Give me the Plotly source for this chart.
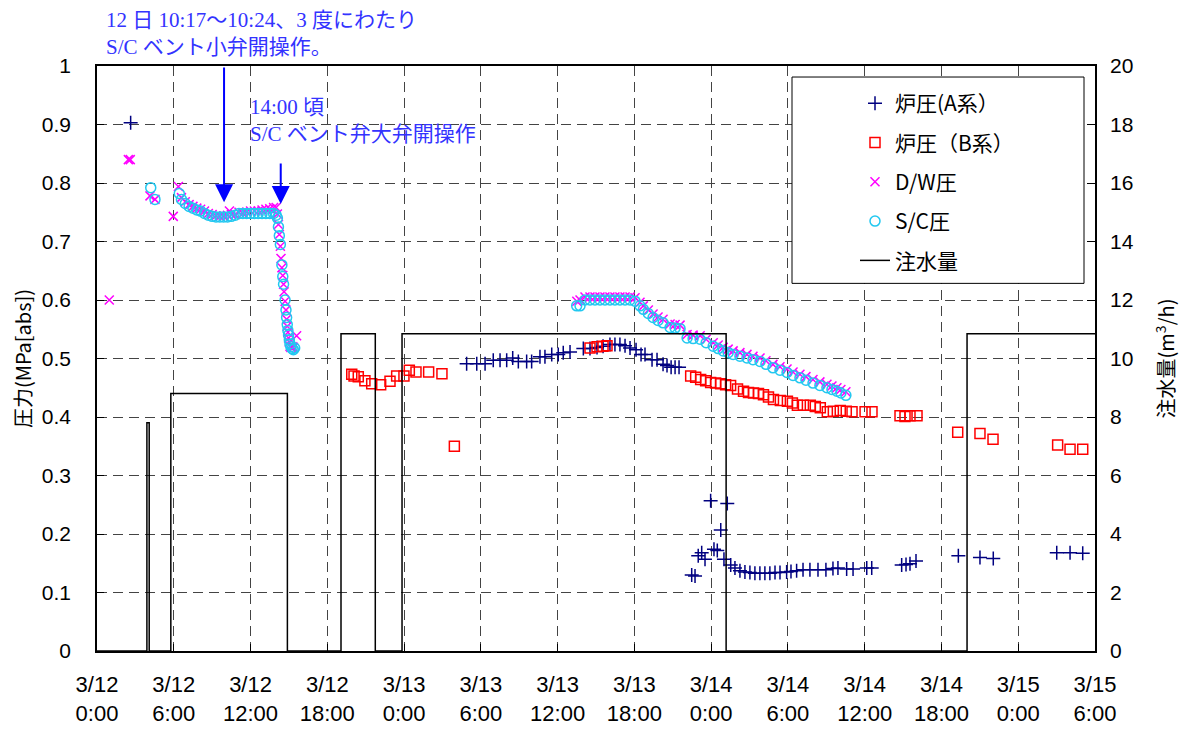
import plotly.graph_objects as go

# time axis: hours since 3/12 0:00
tick_hours = [0, 6, 12, 18, 24, 30, 36, 42, 48, 54, 60, 66, 72, 78]
tick_labels = ["3/12<br>0:00", "3/12<br>6:00", "3/12<br>12:00", "3/12<br>18:00",
               "3/13<br>0:00", "3/13<br>6:00", "3/13<br>12:00", "3/13<br>18:00",
               "3/14<br>0:00", "3/14<br>6:00", "3/14<br>12:00", "3/14<br>18:00",
               "3/15<br>0:00", "3/15<br>6:00"]

# 炉圧(A系)
a_t = [2.63,
       28.89, 29.68, 30.33, 30.97, 31.50, 32.02, 32.49, 32.93, 33.58, 33.97, 34.62, 35.01,
       35.54, 36.05, 36.44, 36.97, 38.01, 38.53, 39.08, 39.55, 40.09, 40.48, 40.87, 41.27,
       41.66, 42.13, 42.52, 42.83, 43.38, 43.77, 44.24, 44.55, 44.87, 45.18, 45.49,
       46.48, 46.74, 46.99, 47.26, 47.52, 47.96, 48.22, 48.48, 48.75, 49.00, 49.26, 49.53,
       49.86, 50.25, 50.64, 51.03, 51.42, 51.81, 52.20, 52.59, 52.99, 53.38, 53.90, 54.24,
       54.68, 55.18, 55.72, 56.35, 56.97, 57.52, 57.91, 58.59, 59.09, 60.16, 60.55,
       62.89, 63.23, 63.54, 64.01, 67.32, 69.01, 70.05, 75.01, 76.05, 77.04]
a_v = [0.903,
       0.491, 0.491, 0.491, 0.497, 0.497, 0.497, 0.501, 0.495, 0.495, 0.495, 0.503, 0.503,
       0.507, 0.507, 0.510, 0.511, 0.517, 0.517, 0.519, 0.521, 0.524, 0.524, 0.524, 0.522,
       0.518, 0.515, 0.507, 0.507, 0.498, 0.498, 0.490, 0.488, 0.485, 0.485, 0.485,
       0.130, 0.128, 0.163, 0.168, 0.157, 0.257, 0.174, 0.172, 0.207, 0.157, 0.252, 0.147,
       0.142, 0.137, 0.135, 0.134, 0.133, 0.133, 0.133, 0.133, 0.134, 0.134, 0.135, 0.136,
       0.137, 0.139, 0.139, 0.139, 0.139, 0.141, 0.142, 0.140, 0.140, 0.142, 0.142,
       0.147, 0.148, 0.149, 0.154, 0.163, 0.160, 0.158, 0.168, 0.168, 0.167]

# 炉圧(B系)
b_t = [19.91, 20.09, 20.42, 20.94, 21.47, 22.17, 22.90, 23.42, 23.99, 24.41, 24.93, 25.92,
       26.96, 27.93,
       38.53, 39.08, 39.55, 39.86,
       46.40, 46.79, 47.18, 47.57, 47.96, 48.35, 48.74, 49.13, 49.52, 50.06, 50.53, 50.92,
       51.31, 51.70, 52.09, 52.48, 52.87, 53.41, 53.96, 54.35, 54.74, 55.21, 55.75, 56.14,
       56.53, 57.08, 57.55, 58.09, 58.56, 59.01, 60.03, 60.57, 62.76, 63.15, 63.54, 64.09,
       67.27, 69.01, 70.03, 75.08, 76.05, 77.04]
b_v = [0.473, 0.470, 0.469, 0.462, 0.457, 0.455, 0.461, 0.470, 0.470, 0.480, 0.477, 0.477,
       0.474, 0.350,
       0.518, 0.520, 0.521, 0.522,
       0.470, 0.468, 0.464, 0.462, 0.459, 0.458, 0.457, 0.455, 0.454, 0.448, 0.444, 0.442,
       0.441, 0.440, 0.438, 0.434, 0.430, 0.428, 0.427, 0.424, 0.420, 0.420, 0.420, 0.418,
       0.416, 0.409, 0.410, 0.411, 0.410, 0.409, 0.409, 0.409, 0.402, 0.401, 0.402, 0.402,
       0.374, 0.372, 0.362, 0.352, 0.345, 0.345]

# D/W圧
dw_t = [0.96, 2.45, 2.60, 4.14, 4.53, 5.96, 6.36, 6.60, 6.90, 7.20, 7.50, 7.80, 8.10, 8.40,
        8.70, 9.00, 9.30, 9.60, 9.90, 10.20, 10.35, 10.50, 10.80, 11.10, 11.40, 11.70, 12.00,
        12.30, 12.60, 12.90, 13.20, 13.50, 13.80, 14.00, 14.10, 14.18, 14.25, 14.33, 14.38,
        14.45, 14.52, 14.58, 14.62, 14.70, 14.77, 14.82, 14.87, 14.92, 14.97, 15.03, 15.08,
        15.15, 15.25, 15.35, 15.60,
        37.50, 37.75, 38.14, 38.53, 38.92, 39.31, 39.70, 40.09, 40.48, 40.87, 41.27, 41.66,
        42.05, 42.44, 42.70, 43.09, 43.46, 43.85, 44.24, 44.79, 45.18, 45.57, 46.12, 46.59,
        47.14, 47.61, 48.16, 48.55, 48.94, 49.33, 49.72, 50.25, 50.80, 51.27, 51.82, 52.28,
        52.83, 53.38, 53.93, 54.40, 54.94, 55.41, 55.96, 56.50, 57.05, 57.44, 57.83, 58.14,
        58.53]
dw_v = [0.600, 0.840, 0.840, 0.778, 0.772, 0.743, 0.794, 0.775, 0.768, 0.763, 0.760, 0.757,
        0.755, 0.752, 0.748, 0.746, 0.744, 0.743, 0.743, 0.745, 0.752, 0.746, 0.746, 0.750,
        0.748, 0.750, 0.752, 0.752, 0.752, 0.754, 0.755, 0.756, 0.758, 0.758, 0.747, 0.729,
        0.712, 0.692, 0.671, 0.655, 0.642, 0.627, 0.614, 0.598, 0.583, 0.567, 0.555, 0.545,
        0.535, 0.528, 0.521, 0.519, 0.520, 0.519, 0.539,
        0.598, 0.600, 0.605, 0.605, 0.605, 0.605, 0.605, 0.605, 0.605, 0.605, 0.605, 0.605,
        0.604, 0.596, 0.590, 0.583, 0.576, 0.571, 0.567, 0.559, 0.558, 0.557, 0.541, 0.540,
        0.539, 0.533, 0.527, 0.523, 0.519, 0.516, 0.513, 0.510, 0.507, 0.504, 0.501, 0.496,
        0.490, 0.486, 0.482, 0.477, 0.473, 0.469, 0.464, 0.460, 0.456, 0.453, 0.450, 0.447,
        0.443]

# S/C圧
sc_t = [4.20, 4.53, 6.43, 6.60, 6.90, 7.20, 7.50, 7.80, 8.10, 8.40, 8.70, 9.00, 9.30, 9.60,
        9.90, 10.20, 10.50, 10.80, 11.10, 11.40, 11.70, 12.00, 12.30, 12.60, 12.90, 13.20,
        13.50, 13.80, 14.00, 14.10, 14.18, 14.25, 14.33, 14.45, 14.52, 14.58, 14.70, 14.77,
        14.82, 14.87, 14.92, 14.97, 15.03, 15.08, 15.15, 15.25, 15.35, 15.45,
        37.49, 37.75, 38.14, 38.53, 38.92, 39.31, 39.70, 40.09, 40.48, 40.87, 41.27, 41.66,
        42.05, 42.44, 42.70, 43.09, 43.46, 43.85, 44.24, 44.79, 45.18, 45.57, 46.12, 46.59,
        47.14, 47.61, 48.16, 48.55, 48.94, 49.33, 49.72, 50.25, 50.80, 51.27, 51.82, 52.28,
        52.83, 53.38, 53.93, 54.40, 54.94, 55.41, 55.96, 56.50, 57.05, 57.44, 57.83, 58.14,
        58.53]
sc_v = [0.792, 0.772, 0.782, 0.772, 0.765, 0.760, 0.757, 0.754, 0.752, 0.748, 0.745, 0.743,
        0.742, 0.742, 0.742, 0.742, 0.743, 0.745, 0.748, 0.748, 0.748, 0.748, 0.748, 0.748,
        0.748, 0.748, 0.748, 0.748, 0.745, 0.740, 0.725, 0.710, 0.695, 0.660, 0.640, 0.627,
        0.600, 0.583, 0.570, 0.558, 0.548, 0.540, 0.532, 0.525, 0.520, 0.517, 0.515, 0.518,
        0.590, 0.590, 0.600, 0.600, 0.600, 0.600, 0.600, 0.600, 0.600, 0.600, 0.600, 0.600,
        0.598, 0.590, 0.584, 0.577, 0.570, 0.565, 0.561, 0.553, 0.552, 0.551, 0.535, 0.534,
        0.533, 0.527, 0.521, 0.517, 0.513, 0.510, 0.507, 0.504, 0.501, 0.498, 0.495, 0.490,
        0.484, 0.480, 0.476, 0.471, 0.467, 0.463, 0.458, 0.454, 0.450, 0.447, 0.444, 0.441,
        0.437]

# 注水量 (m3/h), step profile
inj_t = [0, 3.90, 3.90, 4.08, 4.08, 5.77, 5.77, 14.88, 14.88, 19.07, 19.07, 21.75, 21.75,
         23.84, 23.84, 49.17, 49.17, 68.0, 68.0, 78.0]
inj_v = [0, 0, 7.8, 7.8, 0, 0, 8.8, 8.8, 0, 0, 10.85, 10.85, 0, 0, 10.85, 10.85, 0, 0,
         10.85, 10.85]

jp = "Noto Sans CJK JP"
fig = go.Figure()
fig.add_trace(go.Scatter(x=a_t, y=a_v, mode="markers", name="炉圧(A系）", legendgroup="a",
                         marker=dict(symbol="cross-thin", size=10, line=dict(color="#000080", width=1.5))))
fig.add_trace(go.Scatter(x=b_t, y=b_v, mode="markers", name="炉圧（B系）", legendgroup="b",
                         marker=dict(symbol="square-open", size=10, color="#ff0000", line=dict(width=1.5))))
fig.add_trace(go.Scatter(x=dw_t, y=dw_v, mode="markers", name="D/W圧", legendgroup="c",
                         marker=dict(symbol="x-thin", size=9, line=dict(color="#ff00ff", width=1.5))))
fig.add_trace(go.Scatter(x=sc_t, y=sc_v, mode="markers", name="S/C圧", legendgroup="d",
                         marker=dict(symbol="circle-open", size=10, color="#22c8f0", line=dict(width=1.5))))
fig.add_trace(go.Scatter(x=inj_t, y=inj_v, mode="lines", name="注水量", legendgroup="e", yaxis="y2",
                         line=dict(color="#000000", width=1.5)))

grid = dict(showgrid=True, gridcolor="#444444", gridwidth=1, griddash="10px,6px")
fig.update_layout(
    width=1179, height=721,
    margin=dict(l=89, r=92, t=58, b=78, autoexpand=False),
    plot_bgcolor="white", paper_bgcolor="white",
    font=dict(family="Liberation Sans, " + jp, size=21, color="#000000"),
    xaxis=dict(range=[0, 78], tickvals=tick_hours, ticktext=tick_labels, zeroline=False,
               showline=True, linecolor="#000000", linewidth=1.5, mirror=True, automargin=False,
               ticks="inside", ticklen=7, tickcolor="#000000", ticklabelstandoff=13,
               tickfont=dict(size=22), **grid),
    yaxis=dict(range=[0, 1], dtick=0.1, zeroline=False, showline=True, linecolor="#000000",
               linewidth=1.5, mirror=True, ticks="inside", ticklen=7, tickcolor="#000000",
               ticklabelstandoff=20, automargin=False,
               title=dict(text="圧力(MPa[abs])", font=dict(family=jp, size=20), standoff=16), **grid),
    yaxis2=dict(range=[0, 20], dtick=2, overlaying="y", side="right", showgrid=False,
                zeroline=False, ticks="inside", ticklen=8, tickcolor="#000000",
                ticklabelstandoff=14, automargin=False,
                title=dict(text="注水量(m<sup>3</sup>/h)", font=dict(family=jp, size=20), standoff=27)),
    legend=dict(x=(855 - 97) / 998, y=(651 - 84) / 584, xanchor="left", yanchor="top",
                bgcolor="rgba(0,0,0,0)", borderwidth=0, tracegroupgap=9,
                font=dict(family=jp, size=21)),
    showlegend=True,
)

# legend box
fig.add_shape(type="rect", xref="paper", yref="paper",
              x0=(792 - 97) / 998, x1=(1084 - 97) / 998,
              y0=(651 - 284) / 584, y1=(651 - 78) / 584,
              line=dict(color="#000000", width=1), fillcolor="white", layer="above")

ann_font = dict(family="Liberation Serif, " + jp, size=21, color="#3333ff")
fig.add_annotation(x=0.55, y=(651 - 7) / 584, xref="x", yref="paper", xanchor="left", yanchor="top",
                   text="12 日 10:17〜10:24、3 度にわたり<br>S/C ベント小弁開操作。", showarrow=False,
                   align="left", font=ann_font)
fig.add_annotation(x=11.8, y=(651 - 94) / 584, xref="x", yref="y", xanchor="left", yanchor="top",
                   text="14:00 頃<br>S/C ベント弁大弁開操作", showarrow=False,
                   align="left", font=ann_font)
fig.add_annotation(x=9.93, y=0.767, ax=9.93, ay=1.0, xref="x", yref="y", axref="x", ayref="y",
                   text="", showarrow=True, arrowhead=2, arrowsize=1.8, arrowwidth=2, arrowcolor="#0000ff")
fig.add_annotation(x=14.36, y=0.764, ax=14.36, ay=0.836, xref="x", yref="y", axref="x", ayref="y",
                   text="", showarrow=True, arrowhead=2, arrowsize=1.8, arrowwidth=2, arrowcolor="#0000ff")

fig.write_html("out.html")
